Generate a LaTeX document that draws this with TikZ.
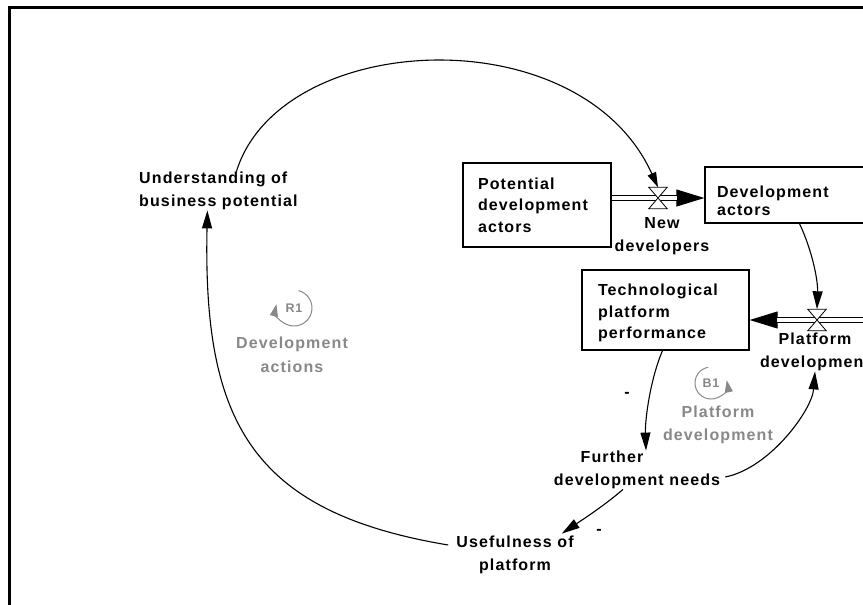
\documentclass[tikz,border=0pt]{standalone}
\usepackage{fontspec}
\setmainfont{Liberation Sans}
\newfontfamily\diagfont[LetterSpace=7]{Liberation Sans}
\usetikzlibrary{arrows.meta,calc}
\definecolor{loopgray}{RGB}{136,136,136}
\begin{document}
\begin{tikzpicture}[x=1pt,y=-1pt,
  every node/.style={inner sep=0pt},
  txt/.style={font=\diagfont\bfseries\fontsize{16}{23.5}\selectfont, align=center},
  looptxt/.style={txt, text=loopgray},
  looplabel/.style={font=\diagfont\bfseries\fontsize{12.5}{14}\selectfont, text=loopgray},
  looparc/.style={draw=loopgray, line width=1pt, -{Triangle[length=12pt,width=8pt,fill=loopgray]}},
  stock/.style={draw, line width=1.3pt, font=\diagfont\bfseries\fontsize{16}{21.5}\selectfont, align=left},
  valve/.style={minimum width=18pt, minimum height=21pt},
  link/.style={line width=1.1pt, -{Triangle[length=18pt,width=10pt]}},
  pipe/.style={double, double distance=3.5pt, line width=0.9pt},
  flowhead/.style={line width=0.9pt, -{Triangle[length=28pt,width=17pt]}}
]
\useasboundingbox (0,0) rectangle (863,605);
\clip (0,0) rectangle (863,605);

% frame
\draw[line width=3pt] (9.5,610) -- (9.5,7.5) -- (870,7.5);

% stocks
\node[stock, text width=118pt, minimum width=148pt, minimum height=84pt] (pot) at (537,205) {Potential\\development\\actors};
\node[stock, text width=161pt, minimum width=185pt, minimum height=56pt, text height=23pt] (dev) at (797.5,195) {Development\\[-3pt]actors};
\node[stock, text width=135pt, minimum width=167pt, minimum height=80pt, text height=17.5pt] (tech) at (665.5,310) {Technological\\platform\\performance};

% valves
\node[valve] (v1) at (658,198) {};
\node[valve] (v2) at (817,320) {};
\coordinate (src) at (900,320);

% variables
\node[txt, anchor=west, align=left] (und) at (139,191) {Understanding of\\business potential};
\node[txt] (newdev) at (662,236) {New\\developers};
\node[txt] (platdev) at (815,352) {Platform\\development};
\node[txt] (fdn) at (637,470) {Further\hspace*{50pt}\\development needs};
\node[txt] (usef) at (515,555) {Usefulness of\\platform};
\node[txt] (m1) at (627,395) {-};
\node[txt] (m2) at (599,532) {-};

% loop names
\node[looptxt] (r1name) at (292,355) {Development\\actions};
\node[looptxt] (b1name) at (718,425) {Platform\\development};
\node[looplabel] (r1) at (294,308) {R1};
\node[looplabel] (b1) at (711,383) {B1};
\draw[looparc] ($(r1)+(-75:18)$) arc[start angle=-75, end angle=192, radius=18];
\draw[looparc] ($(b1)+(-100:16)$) arc[start angle=-100, end angle=-370, radius=16];

% flows
\draw[flowhead] (v1.center) -- (dev.west |- v1.center);
\draw[pipe, shorten >=27pt] (pot.east |- v1.center) -- (dev.west |- v1.center);
\draw[flowhead] (v2.center) -- (tech.east |- v2.center);
\draw[pipe, shorten >=27pt] (src) -- (tech.east |- v2.center);
\foreach \v in {v1,v2}
  \draw[fill=white, line width=0.8pt]
    (\v.north west) -- (\v.north east) -- (\v.center) -- cycle
    (\v.south west) -- (\v.south east) -- (\v.center) -- cycle;

% links
\draw[line width=1.1pt, -{Triangle[length=15pt,width=9pt]}]
  ([xshift=18pt]und.north) .. controls (280,30) and (580,15) .. (v1.north);
\draw[link] ([xshift=2pt]dev.south) .. controls (812,250) and (818,280) .. (v2.north);
\draw[link] ([xshift=-3pt]tech.south) .. controls (650,380) and (645,420) .. ([xshift=9pt]fdn.north);
\draw[link] ([xshift=-14pt]fdn.south) .. controls (605,505) and (585,518) .. ([xshift=-12pt,yshift=2pt]usef.north east);
\draw[link] ([xshift=5pt,yshift=-7pt]fdn.east) .. controls (770,468) and (812,410) .. (platdev.south);
\draw[link] ([xshift=-8pt,yshift=10pt]usef.west) .. controls (250,512) and (203,420) .. ([xshift=-11pt]und.south);
\end{tikzpicture}
\end{document}
